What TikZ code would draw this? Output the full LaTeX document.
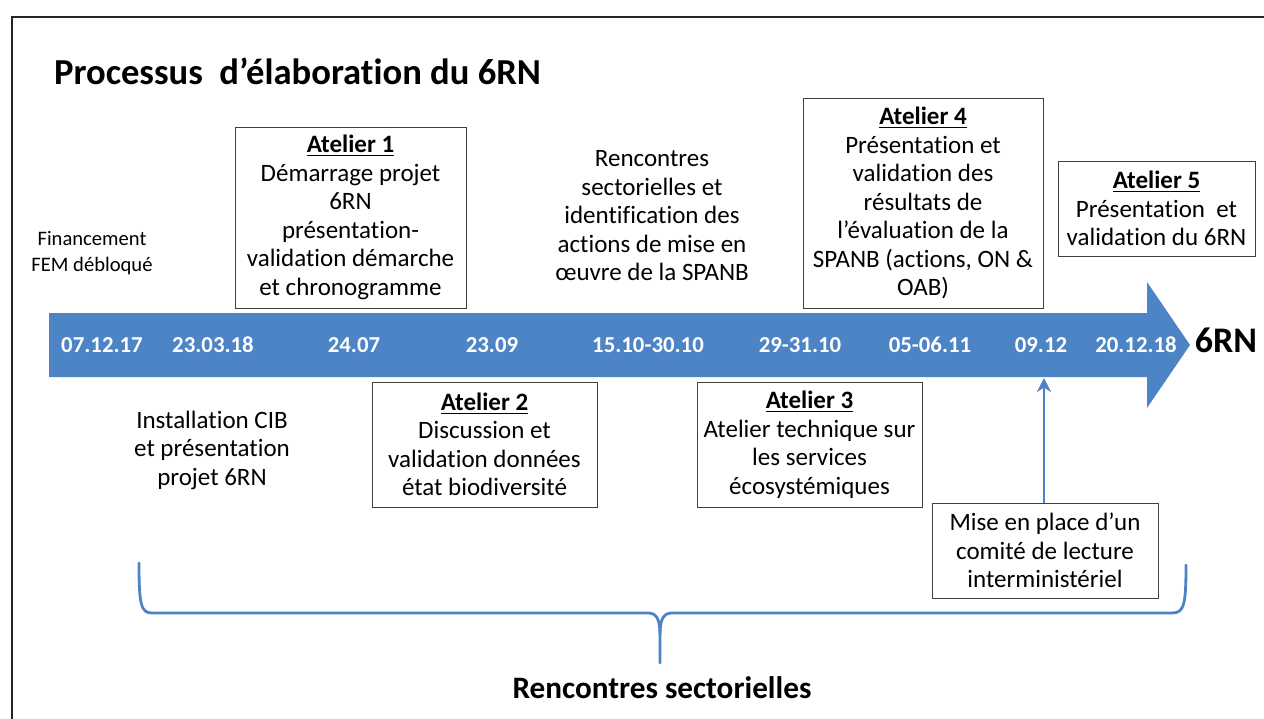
\documentclass[tikz,border=0pt]{standalone}
\usepackage{fontspec}
\setmainfont{Carlito}[Ligatures=NoCommon]
\usepackage{tikz}
\usetikzlibrary{arrows.meta, positioning}

\definecolor{bleu}{RGB}{76,132,198}

\tikzset{
  atelier/.style={draw=black!75, line width=0.5pt, fill=white, align=center, inner sep=0pt,
                  font=\fontsize{12.5}{14.25}\selectfont},
  libre/.style={align=center, font=\fontsize{12.5}{14.25}\selectfont},
  date/.style={text=white, font=\fontsize{11.4}{13}\selectfont\bfseries},
}

\newcommand{\titreat}[1]{\underline{\textbf{#1}}}

\begin{document}
\begin{tikzpicture}[x=0.5pt, y=-0.5pt]

\useasboundingbox (0,0) rectangle (1264,718);
\clip (0,0) rectangle (1264,718);

% cadre
\draw[black!85, line width=0.8pt] (12,17) rectangle (1300,760);

\node[anchor=west, font=\fontsize{18.3}{22}\selectfont\bfseries] (titre) at (47,71) {Processus\ \ d’élaboration du 6RN};

% fleche du temps
\fill[bleu] (49,313) -- (1147,313) -- (1147,282) -- (1190,345) -- (1147,408) -- (1147,377) -- (49,377) -- cycle;

\node[date] (d1) at (102,345) {07.12.17};
\node[date] (d2) at (213,345) {23.03.18};
\node[date] (d3) at (354,345) {24.07};
\node[date] (d4) at (492,345) {23.09};
\node[date] (d5) at (648,345) {15.10-30.10};
\node[date] (d6) at (800,345) {29-31.10};
\node[date] (d7) at (930,345) {05-06.11};
\node[date] (d8) at (1041,345) {09.12};
\node[date] (d9) at (1136,345) {20.12.18};
\node[font=\fontsize{18}{20}\selectfont\bfseries] (fin) at (1226,340) {6RN};

% au-dessus
\node[align=center, font=\fontsize{10.3}{13}\selectfont] (fem) at (92,253) {Financement\\FEM débloqué};
\node[atelier, minimum width=115.5pt, minimum height=90.5pt] (at1) at (350.5,217.5)
  {\titreat{Atelier 1}\\Démarrage projet\\6RN\\présentation-\\validation démarche\\et chronogramme};
\node[libre] (renc) at (652,216)
  {Rencontres\\sectorielles et\\identification des\\actions de mise en\\œuvre de la SPANB};
\node[atelier, minimum width=120pt, minimum height=105pt] (at4) at (923,203)
  {\titreat{Atelier 4}\\Présentation et\\validation des\\résultats de\\l’évaluation de la\\SPANB (actions, ON \&\\OAB)};
\node[atelier, minimum width=98.5pt, minimum height=47.5pt] (at5) at (1156.5,208.5)
  {\titreat{Atelier 5}\\Présentation\ \ et\\validation du 6RN};

% en dessous
\node[libre] (cib) at (212,450) {Installation CIB\\et présentation\\projet 6RN};
\node[atelier, minimum width=112.5pt, minimum height=62.5pt] (at2) at (484.5,444.5)
  {\titreat{Atelier 2}\\Discussion et\\validation données\\état biodiversité};
\node[atelier, minimum width=112.5pt, minimum height=62.5pt] (at3) at (809.5,444.5)
  {\titreat{Atelier 3}\\Atelier technique sur\\les services\\écosystémiques};
\node[atelier, minimum width=113pt, minimum height=47.5pt] (comite) at (1045,550.5)
  {Mise en place d’un\\comité de lecture\\interministériel};

\coordinate (c98) at (1044,378);
\draw[bleu, line width=1.4pt, -{Stealth[length=7pt, width=7pt]}] (comite.north -| c98) -- (c98);

% accolade
\draw[bleu, line width=1.4pt, line cap=round]
  (139,563) .. controls (139,605) and (141,613) .. (152,613) -- (648,613)
  .. controls (657,613) and (660,620) .. (660,635) -- (660,663);
\draw[bleu, line width=1.4pt, line cap=round]
  (1186,565) .. controls (1186,605) and (1184,613) .. (1172,613) -- (672,613)
  .. controls (663,613) and (660,620) .. (660,635);
\node[font=\fontsize{15.6}{18}\selectfont\bfseries] (rs) at (662,688) {Rencontres sectorielles};

\end{tikzpicture}
\end{document}
